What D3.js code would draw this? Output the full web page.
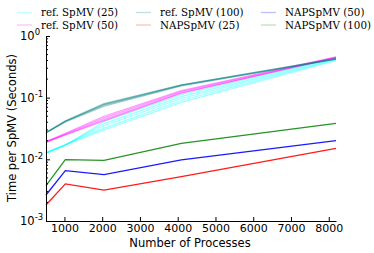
<!DOCTYPE html>
<meta charset="utf-8">
<style>
body { margin: 0; background: #fff; }
</style>
<body>
<script src="https://d3js.org/d3.v7.min.js"></script>
<script>

// number of processes (x values)
var procs = [512, 1024, 2048, 4096, 8192];

// reference SpMV, several runs each (seconds)
var refSpMV25 = [
  [0.0125, 0.0168, 0.041, 0.112, 0.44],
  [0.0127, 0.0170, 0.038, 0.104, 0.43],
  [0.0128, 0.0172, 0.035, 0.097, 0.42],
  [0.0130, 0.0173, 0.032, 0.090, 0.41],
  [0.0126, 0.0171, 0.030, 0.084, 0.40]
];
var refSpMV50 = [
  [0.0195, 0.0265, 0.050, 0.130, 0.46],
  [0.0190, 0.0258, 0.047, 0.126, 0.45],
  [0.0188, 0.0252, 0.044, 0.121, 0.44],
  [0.0192, 0.0248, 0.042, 0.118, 0.45]
];
var refSpMV100 = [
  [0.0272, 0.0420, 0.080, 0.162, 0.43],
  [0.0270, 0.0410, 0.076, 0.158, 0.42],
  [0.0268, 0.0405, 0.073, 0.155, 0.42],
  [0.0271, 0.0415, 0.078, 0.160, 0.43]
];

// node-aware SpMV
var napSpMV25  = [0.00182, 0.0040, 0.00318, 0.00524, 0.0151];
var napSpMV50  = [0.00264, 0.00655, 0.00564, 0.00977, 0.0201];
var napSpMV100 = [0.00374, 0.00986, 0.00964, 0.0182, 0.0384];

var legendNames = ["ref. SpMV (25)", "ref. SpMV (50)", "ref. SpMV (100)",
                   "NAPSpMV (25)", "NAPSpMV (50)", "NAPSpMV (100)"];
var xTicks = [1000, 2000, 3000, 4000, 5000, 6000, 7000, 8000];
var yTicks = [1e-3, 1e-2, 1e-1, 1];
var yExps = ["-3", "-2", "-1", "0"];

var W = 374, H = 253;
var pLeft = 46, pRight = 336, pTop = 36, pBottom = 221;

var svg = d3.select("body").append("svg")
    .attr("width", W)
    .attr("height", H);

var x = d3.scaleLinear().domain([512, 8192]).range([pLeft, pRight]);
var y = d3.scaleLog().domain([1e-3, 1]).range([pBottom, pTop]);

var line = d3.line()
    .x(function(d, i) { return x(procs[i]); })
    .y(function(d) { return y(d); });

var series = [
  {name: legendNames[0], runs: refSpMV25,  color: "#00ffff", op: 0.38, w: 1.2},
  {name: legendNames[1], runs: refSpMV50,  color: "#ff00ff", op: 0.4,  w: 1.2},
  {name: legendNames[2], runs: refSpMV100, color: "#008080", op: 0.4,  w: 1.2},
  {name: legendNames[3], runs: [napSpMV25],  color: "#ff0000", op: 0.9, w: 1.3},
  {name: legendNames[4], runs: [napSpMV50],  color: "#0000ff", op: 0.9, w: 1.3},
  {name: legendNames[5], runs: [napSpMV100], color: "#008000", op: 0.85, w: 1.3}
];

var plot = svg.append("g");
series.forEach(function(s) {
  plot.selectAll(null)
      .data(s.runs)
    .enter().append("path")
      .attr("d", line)
      .attr("fill", "none")
      .attr("stroke", s.color)
      .attr("stroke-opacity", s.op)
      .attr("stroke-width", s.w);
});

// x axis (ticks point inward)
var xAxis = svg.append("g")
    .attr("transform", "translate(0," + pBottom + ")")
    .call(d3.axisBottom(x).tickValues(xTicks).tickSizeInner(-4).tickSizeOuter(0).tickFormat(d3.format("d")));
xAxis.select(".domain").attr("stroke", "#000");
xAxis.selectAll(".tick text")
    .attr("y", 3)
    .attr("dy", "0.71em")
    .style("font-family", "DejaVu Sans, sans-serif")
    .style("font-size", "11px");

// y axis, major + minor ticks inside
var minor = [];
[1e-3, 1e-2, 1e-1].forEach(function(b) {
  for (var k = 2; k <= 9; k++) minor.push(b * k);
});
var yAxis = svg.append("g")
    .attr("transform", "translate(" + pLeft + ",0)")
    .call(d3.axisLeft(y).tickValues(yTicks).tickSizeInner(-4).tickSizeOuter(0).tickFormat(""));
yAxis.select(".domain").attr("stroke", "#000");
yAxis.selectAll(".minor")
    .data(minor)
  .enter().append("line")
    .attr("class", "minor")
    .attr("x1", 0).attr("x2", 2)
    .attr("y1", function(d) { return y(d); })
    .attr("y2", function(d) { return y(d); })
    .attr("stroke", "#000");

var yl = svg.append("g").selectAll("text")
    .data(yTicks)
  .enter().append("text")
    .attr("x", 20)
    .attr("y", function(d) { return y(d); })
    .attr("dy", "0.36em")
    .style("font-family", "DejaVu Sans, sans-serif")
    .style("font-size", "11.5px")
    .text("10");
yl.append("tspan")
    .attr("dy", "-0.55em")
    .style("font-size", "8.5px")
    .text(function(d, i) { return yExps[i]; });

// axis labels
svg.append("text")
    .attr("x", (pLeft + pRight) / 2 - 1)
    .attr("y", 247)
    .attr("text-anchor", "middle")
    .style("font-family", "DejaVu Sans, sans-serif")
    .style("font-size", "11.5px")
    .text("Number of Processes");

svg.append("text")
    .attr("transform", "translate(16," + 128 + ") rotate(-90)")
    .attr("text-anchor", "middle")
    .style("font-family", "DejaVu Sans, sans-serif")
    .style("font-size", "11.5px")
    .text("Time per SpMV (Seconds)");

// legend, 3 columns filled column by column
var colX = [17, 136, 261], rowY = [12.5, 25];
var leg = svg.append("g").selectAll("g")
    .data(series)
  .enter().append("g")
    .attr("transform", function(d, i) {
      return "translate(" + colX[Math.floor(i / 2)] + "," + rowY[i % 2] + ")";
    });
leg.append("line")
    .attr("x1", 0).attr("x2", 15)
    .attr("stroke", function(d) { return d.color; })
    .attr("stroke-opacity", 0.25)
    .attr("stroke-width", 1.3);
leg.append("text")
    .attr("x", 24)
    .attr("dy", "0.35em")
    .style("font-family", "DejaVu Serif, serif")
    .style("font-size", "10.3px")
    .text(function(d) { return d.name; });

</script>
</body>
